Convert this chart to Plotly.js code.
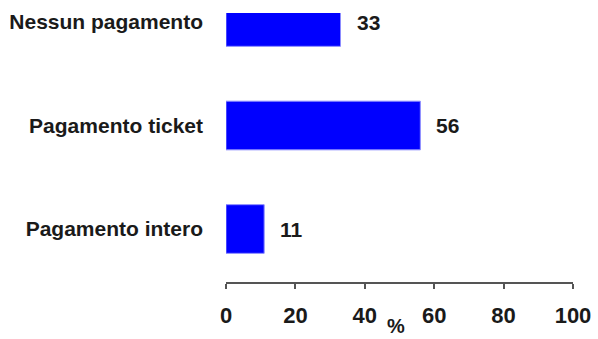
<!DOCTYPE html>
<html>
<head>
<meta charset="utf-8">
<script src="https://cdn.plot.ly/plotly-3.0.1.min.js"></script>
<style>html,body{margin:0;padding:0;background:#fff;}#chart{width:598px;height:339px;}</style>
</head>
<body>
<div id="chart"></div>
<script>
// Data
const categories = ["Pagamento intero", "Pagamento ticket", "Nessun pagamento"];
const values = [11, 56, 33];
const xTickValues = [0, 20, 40, 60, 80, 100];
const xTitle = "%";

const font = "'Liberation Sans', Arial, sans-serif";
const txtColor = "#1a1a1a";

const trace = {
  type: "bar",
  orientation: "h",
  y: categories,
  x: values,
  width: 0.47,
  marker: {color: "#0000ff", line: {color: "#8c8cff", width: 1}},
  cliponaxis: true,
  hoverinfo: "none"
};

const valueLabels = categories.map((c, i) => ({
  text: String(values[i]), xref: "x", yref: "y", x: values[i], y: c,
  xanchor: "left", yanchor: "middle", xshift: 14, showarrow: false,
  font: {family: font, size: 21, color: txtColor, weight: "bold"}
}));

const layout = {
  width: 598, height: 339,
  margin: {l: 226, r: 25, t: 13, b: 57},
  paper_bgcolor: "#fff", plot_bgcolor: "#fff",
  showlegend: false,
  xaxis: {
    range: [0, 100],
    tickvals: xTickValues,
    ticktext: xTickValues.map(String),
    showgrid: false, zeroline: false,
    showline: true, linecolor: "#555", linewidth: 2,
    ticks: "outside", ticklen: 5, tickwidth: 2, tickcolor: "#555",
    ticklabelstandoff: 8,
    tickfont: {family: font, size: 22, color: txtColor, weight: "bold"},
    fixedrange: true
  },
  yaxis: {
    type: "category",
    range: [-0.512, 2.087],
    showgrid: false, zeroline: false, showline: false,
    ticks: "",
    ticklabelstandoff: 22,
    tickfont: {family: font, size: 21, color: txtColor, weight: "bold"},
    fixedrange: true
  },
  annotations: valueLabels.concat([{
    text: xTitle, xref: "x", yref: "paper", x: 49, y: -0.212,
    xanchor: "center", yanchor: "bottom", showarrow: false,
    font: {family: font, size: 20, color: txtColor, weight: "bold"}
  }])
};

Plotly.newPlot("chart", [trace], layout, {displayModeBar: false, staticPlot: true});
</script>
</body>
</html>
